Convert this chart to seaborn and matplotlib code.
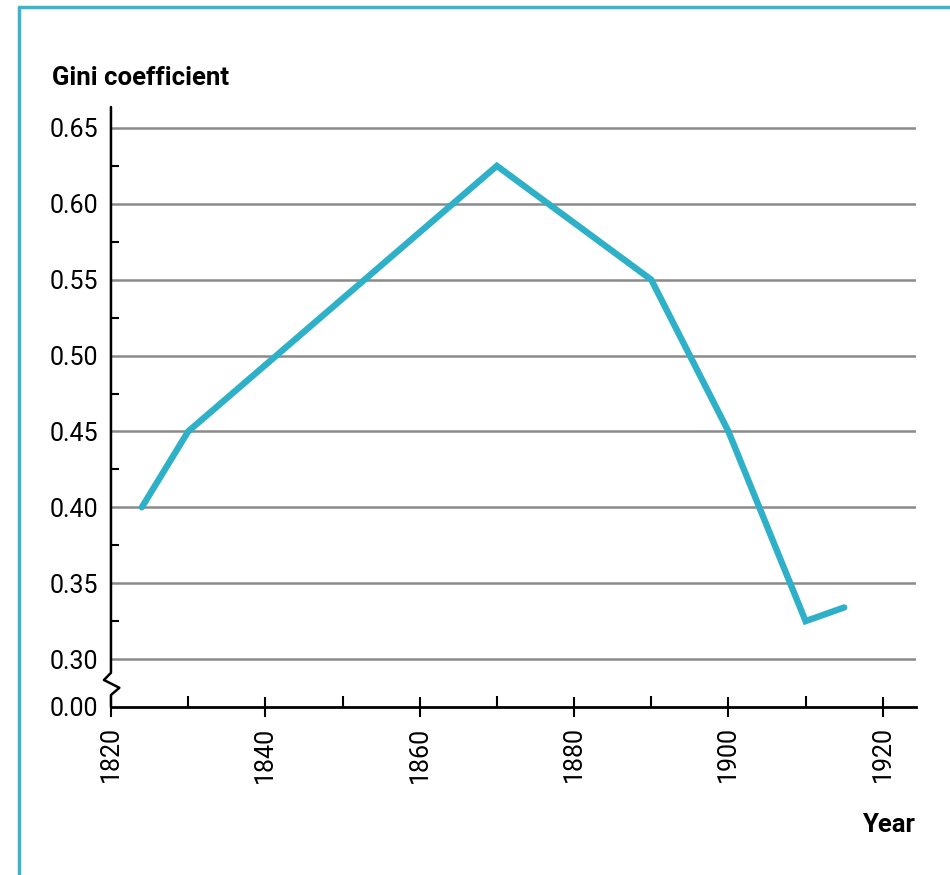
import numpy as np
import pandas as pd
import seaborn as sns
import matplotlib.pyplot as plt
from matplotlib.lines import Line2D
from matplotlib.ticker import FixedLocator

# data
years = [1824, 1830, 1870, 1890, 1900, 1910, 1915]
gini = [0.40, 0.45, 0.625, 0.55, 0.45, 0.325, 0.334]
y_ticks = [0.00, 0.30, 0.35, 0.40, 0.45, 0.50, 0.55, 0.60, 0.65]
y_minor = [0.325, 0.375, 0.425, 0.475, 0.525, 0.575, 0.625]
x_ticks = [1820, 1840, 1860, 1880, 1900, 1920]
x_minor = [1830, 1850, 1870, 1890, 1910]

df = pd.DataFrame({"Year": years, "Gini": gini})

sns.set_style("white")
plt.rcParams['font.family'] = ['Roboto', 'DejaVu Sans']
plt.rcParams['text.color'] = 'black'
plt.rcParams['xtick.color'] = 'black'
plt.rcParams['ytick.color'] = 'black'

teal = '#2fb0c9'

fig = plt.figure(figsize=(9.5, 8.75), dpi=100)
ax = fig.add_axes([0.1168, 0.192, 0.8474, 0.6857])

# broken y axis: squeeze 0 .. 0.30 into a small gap
gap = 0.0316
def fwd(y):
    y = np.asarray(y, dtype=float)
    return np.where(y < 0.3, 0.3 - gap + y * gap / 0.3, y)
def inv(y):
    y = np.asarray(y, dtype=float)
    return np.where(y < 0.3, (y - (0.3 - gap)) * 0.3 / gap, y)
ax.set_yscale('function', functions=(fwd, inv))

sns.lineplot(data=df, x='Year', y='Gini', color=teal, linewidth=4.6, ax=ax,
             solid_joinstyle='miter', zorder=3)

ax.set_xlim(1820, 1924.3)
ax.set_ylim(0.0, 0.6638)

# gridlines
for v in y_ticks[1:]:
    ax.axhline(v, color='#8a8a8a', linewidth=1.8, zorder=1)

ax.yaxis.set_major_locator(FixedLocator(y_ticks))
ax.yaxis.set_minor_locator(FixedLocator(y_minor))
ax.set_yticklabels(['%.2f' % v for v in y_ticks])
ax.xaxis.set_major_locator(FixedLocator(x_ticks))
ax.xaxis.set_minor_locator(FixedLocator(x_minor))
ax.set_xticklabels([str(v) for v in x_ticks], rotation=90)

ax.tick_params(axis='y', which='major', length=0, pad=9, labelsize=18)
ax.tick_params(axis='y', which='minor', direction='in', length=6, width=1.5, left=True)
ax.tick_params(axis='x', which='major', direction='inout', length=14, width=1.5,
               bottom=True, pad=7, labelsize=18)
ax.tick_params(axis='x', which='minor', direction='in', length=8, width=1.5, bottom=True)

for s in ['top', 'right', 'left']:
    ax.spines[s].set_visible(False)
ax.spines['bottom'].set_linewidth(2)
ax.spines['bottom'].set_color('black')

# left axis line with zigzag break
ax.plot([0, 0, 0.0104, -0.0087, 0, 0], [0, 0.02, 0.032, 0.045, 0.057, 1],
        transform=ax.transAxes, color='black', linewidth=1.8, clip_on=False, zorder=4)

ax.set_xlabel('')
ax.set_ylabel('')

fig.text(0.0547, 0.903, 'Gini coefficient', fontsize=18.5, fontweight='bold', va='baseline')
fig.text(0.963, 0.049, 'Year', fontsize=18.5, fontweight='bold', ha='right', va='baseline')

# teal frame on top and left
fig.add_artist(Line2D([0.0195, 1.0], [0.9915, 0.9915], color='#3ab5cc', linewidth=2.5))
fig.add_artist(Line2D([0.0195, 0.0195], [0.0, 0.9915], color='#3ab5cc', linewidth=2.5))

plt.savefig('out.png', dpi=100)
